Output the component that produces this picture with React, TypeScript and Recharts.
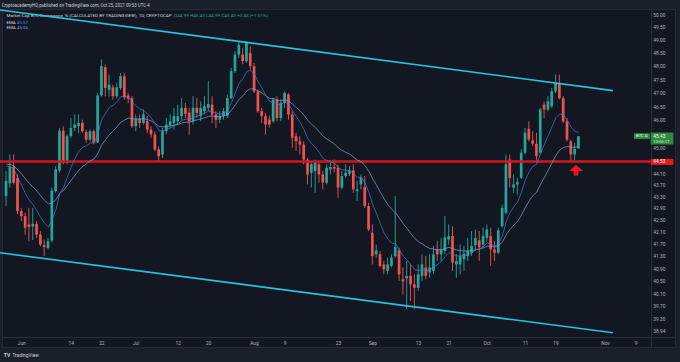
import {
  ComposedChart,
  Bar,
  Line,
  XAxis,
  YAxis,
  ReferenceLine,
  ReferenceDot,
} from 'recharts';

// daily candles, day 0 = Jun 1 2021, first candle May 28
const FIRST_DAY = -4;

const opens = [
  43.33, 43.77, 44.34, 43.96, 42.82, 42.65, 42.37, 42.30, 42.39, 42.03,
  41.68, 41.59, 41.83, 43.50, 44.22, 45.63, 44.49, 45.43, 45.73, 45.79,
  45.91, 45.58, 45.31, 45.61, 45.21, 46.92, 47.98, 47.13, 47.22, 46.89,
  47.20, 47.64, 46.92, 46.82, 45.79, 46.06, 45.91, 45.97, 45.67, 45.49,
  44.96, 44.78, 45.61, 45.82, 45.91, 45.97, 46.16, 46.46, 46.28, 45.97,
  46.46, 46.16, 46.34, 46.46, 46.58, 46.22, 46.03, 46.16, 46.16, 46.82,
  47.83, 48.46, 48.46, 48.21, 48.52, 48.02, 47.07, 46.34, 46.16, 46.03,
  45.97, 46.77, 46.09, 46.64, 46.95, 46.22, 45.43, 45.25, 45.13, 44.60,
  44.14, 44.20, 44.43, 44.08, 43.79, 44.25, 44.34, 44.31, 43.62, 44.02,
  44.10, 44.22, 43.50, 43.73, 43.64, 42.99, 42.09, 41.38, 41.38, 41.05,
  40.84, 41.00, 41.32, 41.51, 40.57, 40.60, 40.68, 40.41, 40.30, 40.68,
  40.95, 40.79, 40.84, 41.54, 41.38, 41.49, 41.87, 41.98, 41.05, 41.05,
  41.22, 41.32, 41.43, 41.68, 41.84, 41.70, 41.92, 41.98, 41.54, 41.43,
  42.31, 42.76, 44.60, 43.62, 43.73, 43.96, 44.84, 45.70, 45.28, 45.16,
  44.84, 46.58, 46.40, 46.52, 47.07, 47.38, 46.82, 45.97, 45.25, 44.78,
  44.99,
];

const highs = [
  44.20, 44.78, 44.78, 44.08, 42.93, 42.76, 42.93, 42.93, 42.48, 42.15,
  41.87, 41.92, 43.62, 44.37, 45.73, 45.79, 45.51, 46.09, 46.22, 46.22,
  46.03, 45.67, 45.67, 45.67, 47.01, 48.27, 48.08, 47.70, 47.32, 47.38,
  47.76, 47.76, 47.01, 46.89, 46.22, 46.22, 46.40, 46.16, 45.79, 45.61,
  45.07, 45.73, 46.09, 46.22, 46.46, 46.58, 46.82, 46.64, 46.46, 46.89,
  46.82, 46.70, 46.89, 47.45, 46.89, 46.34, 46.34, 46.46, 46.95, 47.95,
  48.59, 48.97, 48.71, 48.97, 48.78, 48.14, 47.13, 46.46, 46.28, 46.16,
  46.82, 46.89, 46.77, 47.07, 47.01, 46.34, 45.55, 45.43, 45.25, 44.66,
  44.54, 44.60, 44.54, 44.20, 44.43, 44.54, 44.60, 44.43, 44.20, 44.43,
  44.37, 44.43, 43.85, 44.08, 44.02, 43.10, 42.37, 41.70, 41.49, 41.16,
  41.27, 41.38, 43.33, 41.59, 40.95, 41.16, 41.05, 40.73, 41.05, 41.38,
  41.32, 41.38, 41.65, 41.81, 41.92, 42.65, 42.37, 42.31, 41.38, 41.70,
  41.65, 41.92, 42.15, 42.20, 42.15, 42.26, 42.37, 42.26, 41.81, 42.26,
  43.04, 44.78, 44.78, 44.08, 43.96, 44.96, 45.73, 45.97, 45.61, 45.55,
  46.46, 46.70, 46.89, 47.20, 47.70, 47.70, 46.89, 46.09, 45.31, 45.19,
  45.43,
];

const lows = [
  42.99, 43.62, 43.73, 42.71, 42.48, 42.03, 41.81, 41.85, 41.92, 41.65,
  41.32, 41.54, 41.76, 43.44, 44.14, 44.43, 44.43, 45.37, 45.61, 45.55,
  45.55, 45.19, 45.25, 45.13, 45.19, 46.88, 46.88, 46.88, 46.77, 46.82,
  47.13, 46.77, 46.64, 45.73, 45.61, 45.73, 45.85, 45.55, 45.37, 44.90,
  44.54, 44.66, 45.49, 45.73, 45.67, 45.85, 46.03, 46.09, 45.49, 45.85,
  46.09, 45.97, 46.22, 46.34, 45.91, 45.73, 45.91, 46.03, 46.09, 46.77,
  47.76, 48.33, 48.08, 48.14, 47.89, 47.01, 46.28, 45.91, 45.49, 45.73,
  45.91, 45.97, 45.97, 46.46, 46.03, 45.01, 44.90, 44.78, 44.43, 43.73,
  43.62, 43.44, 43.79, 43.56, 43.73, 44.08, 44.14, 43.27, 43.56, 43.96,
  44.02, 43.44, 43.16, 43.56, 42.93, 42.15, 41.05, 41.27, 40.95, 40.73,
  40.73, 40.95, 41.27, 40.52, 40.09, 39.62, 39.88, 39.62, 40.20, 40.52,
  40.57, 40.62, 40.73, 41.16, 41.16, 41.38, 41.70, 40.84, 40.62, 40.73,
  40.84, 41.16, 41.32, 41.49, 41.16, 41.59, 41.81, 41.00, 41.16, 41.38,
  42.26, 42.71, 43.62, 43.44, 43.39, 43.91, 44.78, 45.25, 45.07, 44.49,
  44.78, 46.09, 46.34, 46.46, 47.01, 46.77, 45.91, 45.25, 44.54, 44.54,
  44.99,
];

const closes = [
  43.85, 44.34, 43.79, 42.82, 42.65, 42.26, 42.29, 42.39, 42.03, 41.70,
  41.62, 41.81, 43.52, 44.25, 45.63, 44.49, 45.43, 45.73, 45.85, 45.91,
  45.61, 45.31, 45.61, 45.21, 46.92, 48.02, 47.20, 47.32, 46.89, 47.22,
  47.64, 46.85, 46.80, 45.79, 46.06, 45.91, 46.22, 45.67, 45.49, 44.96,
  44.72, 45.61, 45.85, 45.97, 46.16, 46.16, 46.46, 46.24, 45.97, 46.46,
  46.28, 46.46, 46.52, 46.60, 46.22, 46.03, 46.16, 46.34, 46.82, 47.83,
  48.46, 48.84, 48.21, 48.91, 48.02, 47.07, 46.34, 46.16, 45.85, 45.85,
  46.77, 46.09, 46.64, 47.01, 46.22, 45.37, 45.25, 45.13, 44.60, 44.08,
  44.43, 44.49, 44.08, 43.79, 44.31, 44.34, 44.28, 43.62, 44.02, 44.14,
  44.22, 43.56, 43.56, 43.96, 42.99, 42.20, 41.32, 41.51, 41.00, 40.89,
  41.05, 41.27, 41.62, 40.73, 40.50, 40.68, 40.41, 40.30, 40.73, 41.05,
  40.68, 40.95, 41.38, 41.38, 41.54, 41.94, 41.98, 41.11, 41.16, 41.32,
  41.40, 41.49, 41.65, 41.92, 41.61, 41.98, 42.20, 41.54, 41.43, 42.17,
  42.93, 44.43, 43.96, 43.73, 43.81, 44.84, 45.55, 45.31, 45.16, 44.72,
  46.40, 46.40, 46.70, 47.07, 47.38, 46.82, 45.97, 45.31, 44.78, 44.98,
  45.43,
];

// the two EMA overlays as they sit on the chart (legend ends 45.57 / 45.06)
const emaFast = [
  44.37, 44.36, 44.25, 43.96, 43.70, 43.41, 43.19, 43.03, 42.83, 42.60,
  42.41, 42.29, 42.54, 42.88, 43.43, 43.64, 44.00, 44.35, 44.65, 44.90,
  45.04, 45.09, 45.19, 45.19, 45.54, 46.04, 46.27, 46.48, 46.56, 46.69,
  46.88, 46.87, 46.86, 46.65, 46.53, 46.41, 46.37, 46.23, 46.08, 45.86,
  45.63, 45.63, 45.67, 45.73, 45.82, 45.89, 46.00, 46.05, 46.03, 46.12,
  46.15, 46.21, 46.27, 46.34, 46.32, 46.26, 46.24, 46.26, 46.37, 46.66,
  47.02, 47.38, 47.55, 47.82, 47.86, 47.70, 47.43, 47.18, 46.91, 46.70,
  46.71, 46.59, 46.60, 46.68, 46.59, 46.35, 46.13, 45.93, 45.66, 45.34,
  45.16, 45.03, 44.84, 44.63, 44.57, 44.52, 44.47, 44.30, 44.24, 44.22,
  44.22, 44.09, 43.98, 43.98, 43.78, 43.46, 43.03, 42.73, 42.38, 42.08,
  41.87, 41.75, 41.72, 41.52, 41.32, 41.19, 41.03, 40.88, 40.85, 40.89,
  40.85, 40.87, 40.97, 41.05, 41.15, 41.31, 41.44, 41.37, 41.33, 41.33,
  41.34, 41.37, 41.43, 41.53, 41.55, 41.64, 41.75, 41.71, 41.65, 41.75,
  41.99, 42.48, 42.78, 42.97, 43.14, 43.48, 43.89, 44.18, 44.37, 44.44,
  44.83, 45.15, 45.46, 45.78, 46.10, 46.24, 46.19, 46.01, 45.76, 45.60,
  45.57,
];

const emaSlow = [
  44.44, 44.43, 44.37, 44.23, 44.09, 43.92, 43.77, 43.64, 43.50, 43.34,
  43.18, 43.06, 43.10, 43.21, 43.43, 43.53, 43.70, 43.88, 44.06, 44.23,
  44.36, 44.45, 44.56, 44.62, 44.83, 45.12, 45.31, 45.49, 45.62, 45.77,
  45.94, 46.02, 46.09, 46.06, 46.06, 46.05, 46.07, 46.03, 45.98, 45.89,
  45.78, 45.77, 45.78, 45.80, 45.83, 45.86, 45.91, 45.94, 45.94, 45.99,
  46.02, 46.06, 46.10, 46.15, 46.16, 46.15, 46.15, 46.17, 46.23, 46.38,
  46.57, 46.78, 46.91, 47.09, 47.17, 47.16, 47.09, 47.01, 46.90, 46.81,
  46.81, 46.74, 46.73, 46.76, 46.71, 46.59, 46.47, 46.35, 46.19, 46.00,
  45.86, 45.74, 45.59, 45.43, 45.33, 45.24, 45.15, 45.01, 44.92, 44.85,
  44.79, 44.68, 44.58, 44.52, 44.38, 44.18, 43.92, 43.70, 43.46, 43.23,
  43.03, 42.87, 42.76, 42.58, 42.39, 42.23, 42.06, 41.90, 41.79, 41.72,
  41.63, 41.57, 41.55, 41.53, 41.53, 41.57, 41.61, 41.56, 41.52, 41.50,
  41.49, 41.49, 41.50, 41.54, 41.55, 41.59, 41.65, 41.64, 41.62, 41.67,
  41.79, 42.03, 42.21, 42.35, 42.48, 42.69, 42.95, 43.17, 43.35, 43.47,
  43.74, 43.98, 44.23, 44.49, 44.75, 44.94, 45.03, 45.06, 45.04, 45.04,
  45.06,
];

const xTicks = [0, 13, 21, 30, 41, 49, 61, 69, 83, 92, 104, 112, 122, 132, 140, 153, 161];
const xTickLabels = ['Jun', '14', '22', 'Jul', '12', '20', 'Aug', '9', '23', 'Sep', '13', '21', 'Oct', '11', '19', 'Nov', '9'];
const yTicks = [50, 49.5, 49, 48.5, 48, 47.5, 47, 46.5, 46, 45, 44.1, 43.7, 43.3, 42.9, 42.5, 42.1, 41.7, 41.3, 40.9, 40.5, 40.1, 39.7, 39.3, 38.94];

const supportLevel = 44.53;
const lastPrice = 45.43;
const lastDay = 146;
const arrowPrice = 44.23;

// hand-drawn channel, endpoints in (day, price)
const channelUpper = [{ x: -5.69, y: 50.2 }, { x: 154.95, y: 47.1 }];
const channelLower = [{ x: -5.69, y: 41.43 }, { x: 154.95, y: 38.89 }];

const UP = '#26a69a';
const DOWN = '#ef5350';
const CYAN = '#26c6da';
const AXIS_TEXT = '#b2b5be';
const FONT = 'Roboto, "Liberation Sans", sans-serif';

const candles = closes.map((close, i) => ({
  day: FIRST_DAY + i,
  open: opens[i],
  high: highs[i],
  low: lows[i],
  close,
  range: [Math.min(lows[i], opens[i], close), Math.max(highs[i], opens[i], close)],
  emaFast: emaFast[i],
  emaSlow: emaSlow[i],
}));

// wick spans the bar, body placed inside it on the same log scale
const Candle = (props: any) => {
  const { x, y, width, height, payload } = props;
  if (x == null || y == null || !payload) return null;
  const top = Math.min(y, y + height);
  const h = Math.abs(height);
  const [lo, hi] = payload.range;
  const span = Math.log(hi) - Math.log(lo) || 1;
  const toY = (v: number) => top + ((Math.log(hi) - Math.log(v)) / span) * h;
  const cx = x + width / 2;
  const up = payload.close >= payload.open;
  const color = up ? UP : DOWN;
  const bodyTop = toY(Math.max(payload.open, payload.close));
  const bodyH = Math.max(toY(Math.min(payload.open, payload.close)) - bodyTop, 0.8);
  return (
    <g>
      <line x1={cx} x2={cx} y1={top} y2={top + h} stroke={color} strokeWidth={0.9} />
      <rect x={cx - 1.35} y={bodyTop} width={2.7} height={bodyH} fill={color} />
    </g>
  );
};

const PriceTick = ({ x, y, payload }: any) => (
  <text x={x + 2.6} y={y + 1.7} fontSize={4.8} fill={AXIS_TEXT} fontFamily={FONT}>
    {Number(payload.value).toFixed(2)}
  </text>
);

const DateTick = ({ x, y, payload }: any) => (
  <text x={x} y={y + 7.8} fontSize={4.8} fill={AXIS_TEXT} fontFamily={FONT} textAnchor="middle">
    {xTickLabels[xTicks.indexOf(payload.value)]}
  </text>
);

const SupportTag = ({ viewBox }: any) => {
  const right = viewBox.x + viewBox.width;
  return (
    <g>
      <rect x={right} y={viewBox.y - 2.6} width={22.7} height={5.9} fill="#f0161e" />
      <text x={right + 2.6} y={viewBox.y + 1.7} fontSize={4.8} fill="#ffffff" fontFamily={FONT}>
        {supportLevel.toFixed(2)}
      </text>
    </g>
  );
};

const LastPriceTag = ({ viewBox }: any) => {
  const right = viewBox.x + viewBox.width;
  const y = viewBox.y;
  return (
    <g fontFamily={FONT}>
      <rect x={right - 16.8} y={y - 3.1} width={16} height={5.8} fill="#2f8a3f" rx={0.6} />
      <text x={right - 8.8} y={y + 1.2} fontSize={4.2} fill="#ffffff" textAnchor="middle">BTC.D</text>
      <rect x={right} y={y - 3.7} width={22.7} height={12} fill="#2f8a3f" />
      <text x={right + 2.6} y={y + 1.4} fontSize={4.8} fill="#ffffff">{lastPrice.toFixed(2)}</text>
      <text x={right + 2.6} y={y + 6.6} fontSize={4.2} fill="#dfe9df">10:06:17</text>
    </g>
  );
};

const UpArrow = ({ cx, cy }: any) => {
  if (cx == null || cy == null) return null;
  return (
    <path
      d={`M${cx},${cy - 5} L${cx + 7},${cy + 1} L${cx + 2.3},${cy + 1} L${cx + 2.3},${cy + 5.5} L${cx - 2.3},${cy + 5.5} L${cx - 2.3},${cy + 1} L${cx - 7},${cy + 1} Z`}
      fill="#f0161e"
    />
  );
};

const Header = () => (
  <svg width={680} height={362} style={{ position: 'absolute', left: 0, top: 0 }}>
    <text x={1.7} y={7} fontSize={4.6} fill="#d1d4dc" fontFamily={FONT} textLength={148} lengthAdjust="spacingAndGlyphs">
      CryptoacademyHQ published on TradingView.com, Oct 25, 2021 09:53 UTC-4
    </text>
    <text x={6.5} y={17.4} fontSize={4.4} fill="#d1d4dc" fontFamily={FONT} textLength={165} lengthAdjust="spacingAndGlyphs">
      Market Cap BTC Dominance, % (CALCULATED BY TRADINGVIEW), 1D, CRYPTOCAP
    </text>
    <text x={174} y={17.4} fontSize={4.4} fill={UP} fontFamily={FONT} textLength={94} lengthAdjust="spacingAndGlyphs">
      O44.99 H45.43 L44.99 C45.43 +0.45 (+1.01%)
    </text>
    <text x={6.5} y={23.6} fontSize={4.4} fill="#d1d4dc" fontFamily={FONT}>EMA</text>
    <text x={17} y={23.6} fontSize={4.4} fill="#4f86e0" fontFamily={FONT}>45.57</text>
    <text x={6.5} y={29.3} fontSize={4.4} fill="#d1d4dc" fontFamily={FONT}>EMA</text>
    <text x={17} y={29.3} fontSize={4.4} fill="#6aa7e8" fontFamily={FONT}>45.06</text>
    <text x={12.4} y={357} fontSize={4.8} fill="#d1d4dc" fontFamily={FONT}>TradingView</text>
    <text x={3.8} y={357} fontSize={5} fontWeight="bold" fill="#d1d4dc" fontFamily={FONT}>TV</text>
  </svg>
);

export default function App() {
  return (
    <div
      style={{
        position: 'absolute',
        left: 0,
        top: 0,
        width: 680,
        height: 362,
        background: '#1b1f2a',
        overflow: 'hidden',
      }}
    >
      <div
        style={{
          position: 'absolute',
          left: 2,
          top: 9,
          width: 674,
          height: 339,
          background: '#131722',
          boxSizing: 'border-box',
          border: '1px solid #262a35',
        }}
      />
      <div style={{ position: 'absolute', left: 650.5, top: 9, width: 1, height: 339, background: '#2a2e39' }} />
      <div style={{ position: 'absolute', left: 2, top: 337, width: 674, height: 1, background: '#2a2e39' }} />
      <Header />
      <div style={{ position: 'absolute', left: 0, top: 0 }}>
        <ComposedChart
          width={680}
          height={362}
          data={candles}
          margin={{ top: 9, right: 0, bottom: 14, left: 0 }}
        >
          <XAxis
            dataKey="day"
            type="number"
            domain={[-5.69, 164.83]}
            allowDataOverflow
            ticks={xTicks}
            interval={0}
            tick={<DateTick />}
            tickSize={0}
            tickMargin={0}
            axisLine={false}
            tickLine={false}
            height={11}
          />
          <YAxis
            orientation="right"
            scale="log"
            domain={[38.76, 50.24]}
            allowDataOverflow
            ticks={yTicks}
            interval={0}
            tick={<PriceTick />}
            tickSize={0}
            tickMargin={0}
            axisLine={false}
            tickLine={false}
            width={29.3}
          />
          <ReferenceLine
            y={supportLevel}
            stroke="#d8141c"
            strokeWidth={2.4}
            label={(p: any) => <SupportTag viewBox={p.viewBox} />}
          />
          <ReferenceLine
            y={lastPrice}
            stroke="none"
            strokeWidth={0}
            label={(p: any) => <LastPriceTag viewBox={p.viewBox} />}
          />
          <Line
            dataKey="emaSlow"
            type="linear"
            stroke="#7fa9d6"
            strokeWidth={0.7}
            dot={false}
            isAnimationActive={false}
          />
          <Line
            dataKey="emaFast"
            type="linear"
            stroke="#4a7fd0"
            strokeWidth={0.7}
            dot={false}
            isAnimationActive={false}
          />
          <Bar dataKey="range" barSize={3} shape={(p: any) => <Candle {...p} />} isAnimationActive={false} />
          <ReferenceLine segment={channelUpper} stroke={CYAN} strokeWidth={1.6} ifOverflow="hidden" />
          <ReferenceLine segment={channelLower} stroke={CYAN} strokeWidth={1.6} ifOverflow="hidden" />
          <ReferenceDot x={lastDay - 0.74} y={arrowPrice} r={0} shape={(p: any) => <UpArrow {...p} />} />
        </ComposedChart>
      </div>
    </div>
  );
}
